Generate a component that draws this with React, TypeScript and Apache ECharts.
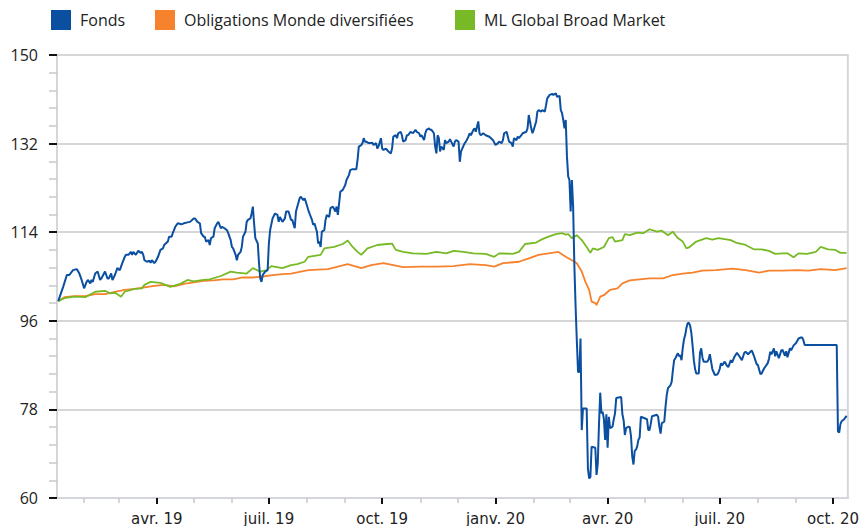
import React, { useEffect, useRef } from "react";
import * as echarts from "echarts";

const seriesNames = ["Fonds", "Obligations Monde diversifiées", "ML Global Broad Market"];
const seriesColors = ["#0b4fa1", "#f7822d", "#77ba26"];

const fonds: [string, number][] = [
  ["2019-01-11", 100.0], ["2019-01-15", 102.9], ["2019-01-18", 105.3], ["2019-01-20", 105.3], ["2019-01-23", 106.3],
  ["2019-01-26", 106.5], ["2019-01-28", 105.7], ["2019-01-30", 104.3], ["2019-02-01", 102.6], ["2019-02-03", 103.9],
  ["2019-02-04", 104.3], ["2019-02-06", 103.6], ["2019-02-07", 104.3], ["2019-02-08", 103.9], ["2019-02-10", 105.6],
  ["2019-02-12", 106.0], ["2019-02-14", 104.3], ["2019-02-15", 104.6], ["2019-02-18", 106.0], ["2019-02-20", 104.6],
  ["2019-02-21", 104.6], ["2019-02-23", 105.6], ["2019-02-24", 104.3], ["2019-02-26", 105.3], ["2019-02-27", 106.0],
  ["2019-02-28", 106.7], ["2019-03-02", 106.3], ["2019-03-03", 107.0], ["2019-03-04", 107.7], ["2019-03-06", 109.0],
  ["2019-03-07", 109.4], ["2019-03-09", 109.4], ["2019-03-11", 110.0], ["2019-03-12", 109.4], ["2019-03-13", 110.0],
  ["2019-03-15", 109.4], ["2019-03-17", 110.2], ["2019-03-19", 109.8], ["2019-03-20", 110.0], ["2019-03-21", 109.4],
  ["2019-03-22", 108.3], ["2019-03-24", 108.0], ["2019-03-26", 108.2], ["2019-03-27", 107.8], ["2019-03-28", 108.3],
  ["2019-03-30", 107.7], ["2019-03-31", 108.0], ["2019-04-02", 109.0], ["2019-04-04", 110.4], ["2019-04-06", 110.7],
  ["2019-04-07", 111.4], ["2019-04-10", 112.1], ["2019-04-11", 113.1], ["2019-04-13", 113.1], ["2019-04-14", 113.8],
  ["2019-04-16", 115.1], ["2019-04-18", 115.8], ["2019-04-21", 115.6], ["2019-04-23", 115.8], ["2019-04-26", 116.0],
  ["2019-04-28", 116.1], ["2019-05-01", 116.8], ["2019-05-02", 116.8], ["2019-05-04", 116.1], ["2019-05-06", 115.8],
  ["2019-05-07", 113.8], ["2019-05-09", 113.1], ["2019-05-10", 113.1], ["2019-05-11", 112.1], ["2019-05-13", 112.4],
  ["2019-05-14", 111.4], ["2019-05-15", 112.8], ["2019-05-17", 113.1], ["2019-05-18", 114.8], ["2019-05-20", 115.8],
  ["2019-05-21", 116.1], ["2019-05-23", 114.8], ["2019-05-24", 115.1], ["2019-05-26", 114.8], ["2019-05-28", 114.4],
  ["2019-05-29", 113.8], ["2019-05-30", 113.1], ["2019-05-31", 112.4], ["2019-06-01", 111.0], ["2019-06-02", 110.7],
  ["2019-06-04", 109.4], ["2019-06-05", 108.3], ["2019-06-06", 109.4], ["2019-06-08", 110.0], ["2019-06-09", 111.0],
  ["2019-06-10", 113.1], ["2019-06-12", 114.1], ["2019-06-13", 116.1], ["2019-06-14", 116.5], ["2019-06-16", 116.8],
  ["2019-06-17", 117.8], ["2019-06-18", 119.2], ["2019-06-19", 115.8], ["2019-06-20", 112.8], ["2019-06-22", 111.7],
  ["2019-06-23", 107.7], ["2019-06-24", 104.6], ["2019-06-25", 103.9], ["2019-06-26", 105.3], ["2019-06-28", 106.0],
  ["2019-06-30", 106.3], ["2019-07-01", 111.7], ["2019-07-02", 114.4], ["2019-07-04", 116.8], ["2019-07-06", 117.8],
  ["2019-07-08", 117.5], ["2019-07-09", 116.1], ["2019-07-10", 117.1], ["2019-07-12", 116.1], ["2019-07-14", 116.8],
  ["2019-07-15", 118.2], ["2019-07-17", 118.2], ["2019-07-19", 116.5], ["2019-07-20", 116.5], ["2019-07-22", 114.8],
  ["2019-07-23", 118.2], ["2019-07-26", 120.9], ["2019-07-27", 121.2], ["2019-07-29", 120.5], ["2019-07-30", 120.9],
  ["2019-07-31", 120.2], ["2019-08-02", 118.5], ["2019-08-03", 117.8], ["2019-08-05", 116.5], ["2019-08-06", 115.5],
  ["2019-08-07", 115.8], ["2019-08-09", 114.1], ["2019-08-10", 111.7], ["2019-08-11", 112.1], ["2019-08-12", 111.0],
  ["2019-08-13", 114.1], ["2019-08-15", 114.4], ["2019-08-16", 116.5], ["2019-08-17", 117.5], ["2019-08-19", 117.1],
  ["2019-08-20", 118.9], ["2019-08-22", 119.2], ["2019-08-24", 118.2], ["2019-08-25", 119.2], ["2019-08-26", 117.5],
  ["2019-08-27", 119.8], ["2019-08-28", 122.2], ["2019-08-30", 122.6], ["2019-09-01", 123.6], ["2019-09-02", 124.6],
  ["2019-09-04", 125.6], ["2019-09-05", 126.6], ["2019-09-07", 126.8], ["2019-09-10", 126.8], ["2019-09-11", 128.7],
  ["2019-09-12", 131.4], ["2019-09-14", 131.7], ["2019-09-15", 132.1], ["2019-09-16", 133.1], ["2019-09-17", 132.4],
  ["2019-09-18", 132.4], ["2019-09-20", 132.1], ["2019-09-22", 132.1], ["2019-09-23", 132.2], ["2019-09-24", 131.7],
  ["2019-09-26", 132.1], ["2019-09-27", 131.0], ["2019-09-28", 131.4], ["2019-09-30", 133.1], ["2019-10-01", 131.0],
  ["2019-10-02", 130.7], ["2019-10-04", 131.0], ["2019-10-05", 130.7], ["2019-10-06", 130.4], ["2019-10-08", 130.0],
  ["2019-10-09", 131.0], ["2019-10-10", 133.4], ["2019-10-12", 133.7], ["2019-10-13", 133.1], ["2019-10-14", 134.1],
  ["2019-10-16", 134.4], ["2019-10-17", 133.7], ["2019-10-18", 132.4], ["2019-10-20", 132.7], ["2019-10-21", 133.7],
  ["2019-10-22", 133.7], ["2019-10-24", 134.4], ["2019-10-26", 134.1], ["2019-10-28", 134.8], ["2019-10-29", 134.4],
  ["2019-10-31", 134.1], ["2019-11-01", 133.4], ["2019-11-02", 133.7], ["2019-11-04", 132.7], ["2019-11-05", 134.1],
  ["2019-11-06", 134.8], ["2019-11-08", 135.1], ["2019-11-09", 134.8], ["2019-11-10", 134.8], ["2019-11-12", 134.1],
  ["2019-11-13", 131.4], ["2019-11-14", 130.0], ["2019-11-15", 133.7], ["2019-11-16", 133.1], ["2019-11-17", 130.4],
  ["2019-11-18", 131.4], ["2019-11-20", 130.7], ["2019-11-21", 132.7], ["2019-11-22", 132.1], ["2019-11-24", 132.4],
  ["2019-11-25", 132.9], ["2019-11-26", 132.4], ["2019-11-28", 131.4], ["2019-11-29", 132.4], ["2019-11-30", 132.7],
  ["2019-12-02", 132.4], ["2019-12-03", 128.3], ["2019-12-04", 130.4], ["2019-12-05", 131.0], ["2019-12-07", 132.1],
  ["2019-12-08", 132.4], ["2019-12-10", 133.4], ["2019-12-11", 134.1], ["2019-12-12", 133.7], ["2019-12-14", 134.8],
  ["2019-12-15", 135.1], ["2019-12-16", 134.4], ["2019-12-18", 136.5], ["2019-12-19", 134.1], ["2019-12-20", 133.7],
  ["2019-12-22", 134.1], ["2019-12-24", 133.7], ["2019-12-27", 133.4], ["2019-12-30", 132.7], ["2020-01-01", 131.7],
  ["2020-01-03", 132.1], ["2020-01-04", 132.4], ["2020-01-06", 132.1], ["2020-01-07", 132.7], ["2020-01-08", 134.1],
  ["2020-01-10", 134.4], ["2020-01-11", 133.4], ["2020-01-12", 132.4], ["2020-01-14", 132.1], ["2020-01-15", 131.4],
  ["2020-01-16", 133.1], ["2020-01-18", 132.7], ["2020-01-19", 133.4], ["2020-01-20", 133.1], ["2020-01-22", 133.7],
  ["2020-01-23", 134.1], ["2020-01-26", 134.4], ["2020-01-27", 135.1], ["2020-01-28", 137.8], ["2020-01-30", 135.1],
  ["2020-01-31", 134.1], ["2020-02-01", 134.8], ["2020-02-03", 136.5], ["2020-02-04", 138.5], ["2020-02-05", 138.8],
  ["2020-02-07", 138.5], ["2020-02-08", 138.8], ["2020-02-10", 138.5], ["2020-02-11", 139.8], ["2020-02-12", 141.2],
  ["2020-02-14", 141.9], ["2020-02-16", 142.1], ["2020-02-17", 141.9], ["2020-02-19", 142.2], ["2020-02-20", 141.5],
  ["2020-02-22", 141.7], ["2020-02-23", 138.8], ["2020-02-24", 138.2], ["2020-02-25", 136.8], ["2020-02-26", 135.1],
  ["2020-02-27", 136.8], ["2020-02-28", 129.3], ["2020-02-29", 125.3], ["2020-03-01", 124.6], ["2020-03-02", 118.2],
  ["2020-03-03", 124.6], ["2020-03-04", 119.2], ["2020-03-05", 107.3], ["2020-03-06", 99.0], ["2020-03-07", 92.0],
  ["2020-03-08", 85.6], ["2020-03-09", 85.6], ["2020-03-10", 92.4], ["2020-03-11", 73.8], ["2020-03-12", 78.2],
  ["2020-03-15", 78.2], ["2020-03-16", 66.0], ["2020-03-17", 64.0], ["2020-03-18", 64.2], ["2020-03-19", 70.4],
  ["2020-03-22", 70.2], ["2020-03-23", 64.7], ["2020-03-24", 67.0], ["2020-03-25", 75.0], ["2020-03-26", 81.4],
  ["2020-03-27", 77.2], ["2020-03-28", 77.5], ["2020-03-29", 76.0], ["2020-03-30", 71.8], ["2020-03-31", 77.0],
  ["2020-04-01", 70.2], ["2020-04-02", 76.5], ["2020-04-03", 74.2], ["2020-04-05", 74.5], ["2020-04-06", 76.0],
  ["2020-04-07", 77.2], ["2020-04-08", 80.3], ["2020-04-12", 80.5], ["2020-04-13", 77.0], ["2020-04-14", 75.8],
  ["2020-04-15", 72.8], ["2020-04-16", 74.2], ["2020-04-18", 74.5], ["2020-04-19", 74.4], ["2020-04-20", 72.5],
  ["2020-04-21", 68.4], ["2020-04-22", 66.8], ["2020-04-23", 69.6], ["2020-04-24", 69.8], ["2020-04-25", 70.5],
  ["2020-04-26", 71.8], ["2020-04-27", 72.3], ["2020-04-28", 76.5], ["2020-05-03", 76.0], ["2020-05-04", 73.8],
  ["2020-05-05", 73.8], ["2020-05-06", 75.0], ["2020-05-07", 76.6], ["2020-05-11", 76.9], ["2020-05-12", 76.5],
  ["2020-05-13", 74.5], ["2020-05-14", 73.1], ["2020-05-15", 75.2], ["2020-05-17", 75.5], ["2020-05-18", 78.5],
  ["2020-05-19", 80.9], ["2020-05-20", 82.3], ["2020-05-22", 82.9], ["2020-05-23", 83.6], ["2020-05-24", 86.0],
  ["2020-05-25", 88.0], ["2020-05-26", 88.4], ["2020-05-28", 89.4], ["2020-05-29", 88.8], ["2020-05-30", 89.0],
  ["2020-05-31", 88.0], ["2020-06-01", 90.5], ["2020-06-02", 92.2], ["2020-06-03", 93.1], ["2020-06-04", 94.6],
  ["2020-06-05", 95.5], ["2020-06-06", 95.6], ["2020-06-07", 95.0], ["2020-06-08", 93.5], ["2020-06-09", 90.9],
  ["2020-06-10", 88.0], ["2020-06-11", 86.2], ["2020-06-12", 85.3], ["2020-06-14", 85.3], ["2020-06-15", 89.5],
  ["2020-06-16", 90.4], ["2020-06-17", 88.5], ["2020-06-18", 87.7], ["2020-06-21", 87.7], ["2020-06-22", 88.2],
  ["2020-06-23", 89.2], ["2020-06-24", 87.7], ["2020-06-25", 86.2], ["2020-06-26", 85.6], ["2020-06-27", 85.0],
  ["2020-06-29", 85.1], ["2020-06-30", 85.5], ["2020-07-01", 86.2], ["2020-07-02", 87.4], ["2020-07-03", 86.9],
  ["2020-07-05", 87.7], ["2020-07-07", 86.8], ["2020-07-08", 86.6], ["2020-07-10", 88.0], ["2020-07-11", 87.5],
  ["2020-07-13", 88.7], ["2020-07-15", 89.5], ["2020-07-17", 88.8], ["2020-07-19", 88.0], ["2020-07-21", 89.5],
  ["2020-07-22", 89.7], ["2020-07-24", 89.2], ["2020-07-27", 90.0], ["2020-07-29", 88.7], ["2020-07-31", 87.2],
  ["2020-08-01", 87.0], ["2020-08-03", 85.2], ["2020-08-04", 85.3], ["2020-08-06", 86.3], ["2020-08-09", 87.4],
  ["2020-08-10", 88.3], ["2020-08-11", 89.7], ["2020-08-12", 89.2], ["2020-08-14", 90.4], ["2020-08-15", 88.8],
  ["2020-08-16", 89.8], ["2020-08-18", 88.4], ["2020-08-20", 90.0], ["2020-08-21", 90.1], ["2020-08-23", 88.9],
  ["2020-08-24", 89.8], ["2020-08-25", 88.6], ["2020-08-27", 90.4], ["2020-08-28", 90.0], ["2020-08-30", 91.0],
  ["2020-09-01", 91.5], ["2020-09-03", 92.4], ["2020-09-05", 92.6], ["2020-09-06", 92.6], ["2020-09-07", 92.0],
  ["2020-09-08", 91.1], ["2020-10-04", 91.1], ["2020-10-05", 73.5], ["2020-10-06", 73.3], ["2020-10-07", 75.0],
  ["2020-10-08", 75.6], ["2020-10-10", 76.0], ["2020-10-12", 76.7],
];

const obligations: [string, number][] = [
  ["2019-01-11", 100.0], ["2019-01-16", 100.8], ["2019-01-24", 101.0], ["2019-02-02", 101.0], ["2019-02-10", 101.4],
  ["2019-02-18", 101.4], ["2019-02-26", 101.9], ["2019-03-06", 102.3], ["2019-03-14", 102.5], ["2019-03-22", 102.8],
  ["2019-03-30", 103.1], ["2019-04-07", 103.3], ["2019-04-15", 103.0], ["2019-04-23", 103.5], ["2019-05-01", 103.8],
  ["2019-05-09", 104.1], ["2019-05-17", 104.2], ["2019-05-25", 104.4], ["2019-06-02", 104.4], ["2019-06-10", 104.8],
  ["2019-06-18", 104.8], ["2019-06-26", 105.0], ["2019-07-04", 105.3], ["2019-07-12", 105.5], ["2019-07-19", 105.6],
  ["2019-07-25", 105.9], ["2019-08-02", 106.3], ["2019-08-18", 106.5], ["2019-09-03", 107.5], ["2019-09-14", 106.7],
  ["2019-09-22", 107.3], ["2019-10-02", 107.7], ["2019-10-10", 107.3], ["2019-10-18", 106.9], ["2019-11-01", 107.0],
  ["2019-11-14", 107.0], ["2019-11-28", 107.1], ["2019-12-11", 107.5], ["2019-12-24", 107.3], ["2019-12-31", 107.0],
  ["2020-01-07", 107.7], ["2020-01-20", 108.0], ["2020-01-28", 108.7], ["2020-02-05", 109.4], ["2020-02-13", 109.7],
  ["2020-02-21", 110.0], ["2020-02-27", 109.0], ["2020-03-03", 108.3], ["2020-03-07", 107.7], ["2020-03-11", 106.0],
  ["2020-03-14", 103.9], ["2020-03-17", 102.3], ["2020-03-19", 99.9], ["2020-03-22", 99.6], ["2020-03-23", 99.2],
  ["2020-03-26", 100.9], ["2020-03-29", 101.2], ["2020-04-03", 102.3], ["2020-04-09", 102.6], ["2020-04-13", 103.6],
  ["2020-04-19", 104.2], ["2020-04-27", 104.4], ["2020-05-05", 104.6], ["2020-05-16", 104.6], ["2020-05-24", 105.3],
  ["2020-06-01", 105.6], ["2020-06-09", 105.8], ["2020-06-17", 106.2], ["2020-06-28", 106.3], ["2020-07-11", 106.6],
  ["2020-07-22", 106.3], ["2020-08-02", 105.8], ["2020-08-10", 106.2], ["2020-08-21", 106.2], ["2020-09-02", 106.3],
  ["2020-09-11", 106.2], ["2020-09-21", 106.5], ["2020-10-03", 106.3], ["2020-10-12", 106.7],
];

const mlGlobal: [string, number][] = [
  ["2019-01-11", 100.0], ["2019-01-16", 100.6], ["2019-01-24", 100.9], ["2019-02-02", 100.8], ["2019-02-10", 101.9],
  ["2019-02-18", 102.1], ["2019-02-22", 101.6], ["2019-02-26", 101.7], ["2019-02-28", 101.4], ["2019-03-03", 100.9],
  ["2019-03-06", 101.9], ["2019-03-14", 102.5], ["2019-03-20", 102.6], ["2019-03-22", 103.3], ["2019-03-27", 103.9],
  ["2019-04-04", 103.7], ["2019-04-12", 102.9], ["2019-04-20", 103.5], ["2019-04-26", 104.3], ["2019-05-01", 104.0],
  ["2019-05-09", 104.3], ["2019-05-14", 104.4], ["2019-05-23", 105.1], ["2019-05-31", 106.0], ["2019-06-05", 105.8],
  ["2019-06-13", 105.6], ["2019-06-18", 106.7], ["2019-06-24", 106.0], ["2019-06-29", 106.3], ["2019-07-03", 107.1],
  ["2019-07-12", 106.7], ["2019-07-19", 107.3], ["2019-07-24", 107.5], ["2019-07-30", 108.0], ["2019-08-02", 109.0],
  ["2019-08-12", 109.4], ["2019-08-15", 110.7], ["2019-08-23", 111.0], ["2019-08-30", 111.6], ["2019-09-03", 112.3],
  ["2019-09-07", 111.0], ["2019-09-11", 110.0], ["2019-09-14", 109.4], ["2019-09-19", 110.7], ["2019-09-27", 111.4],
  ["2019-10-05", 111.6], ["2019-10-09", 111.7], ["2019-10-12", 110.4], ["2019-10-18", 110.0], ["2019-10-26", 109.7],
  ["2019-11-06", 109.6], ["2019-11-14", 110.0], ["2019-11-22", 109.7], ["2019-11-28", 110.2], ["2019-12-06", 110.0],
  ["2019-12-14", 109.7], ["2019-12-24", 109.6], ["2019-12-31", 109.0], ["2020-01-04", 109.7], ["2020-01-15", 109.6],
  ["2020-01-20", 110.0], ["2020-01-25", 111.6], ["2020-02-03", 111.9], ["2020-02-08", 112.6], ["2020-02-13", 113.1],
  ["2020-02-19", 113.6], ["2020-02-24", 113.8], ["2020-02-27", 113.5], ["2020-02-29", 113.6], ["2020-03-03", 112.8],
  ["2020-03-07", 113.4], ["2020-03-11", 112.4], ["2020-03-15", 111.0], ["2020-03-18", 109.8], ["2020-03-20", 110.7],
  ["2020-03-24", 110.4], ["2020-03-29", 111.0], ["2020-04-02", 112.8], ["2020-04-05", 113.0], ["2020-04-07", 112.1],
  ["2020-04-13", 112.4], ["2020-04-15", 113.6], ["2020-04-19", 113.4], ["2020-04-25", 113.9], ["2020-04-30", 113.8],
  ["2020-05-05", 114.6], ["2020-05-11", 114.1], ["2020-05-15", 114.3], ["2020-05-20", 113.4], ["2020-05-24", 114.1],
  ["2020-05-28", 112.8], ["2020-06-01", 112.1], ["2020-06-04", 110.7], ["2020-06-06", 110.9], ["2020-06-12", 112.1],
  ["2020-06-20", 112.8], ["2020-06-25", 112.5], ["2020-06-30", 112.8], ["2020-07-10", 112.4], ["2020-07-14", 111.9],
  ["2020-07-22", 111.4], ["2020-07-29", 110.5], ["2020-08-04", 110.5], ["2020-08-10", 110.2], ["2020-08-15", 109.6],
  ["2020-08-21", 109.7], ["2020-08-25", 109.7], ["2020-08-30", 108.9], ["2020-09-03", 109.7], ["2020-09-10", 109.6],
  ["2020-09-17", 110.0], ["2020-09-21", 111.0], ["2020-09-27", 110.5], ["2020-10-03", 110.4], ["2020-10-07", 109.8],
  ["2020-10-12", 109.8],
];

const xRange = ["2019-01-10", "2020-10-13"];
const monthTickDates = [
  "2019-02-01", "2019-03-01", "2019-04-01", "2019-05-01", "2019-06-01", "2019-07-01", "2019-08-01",
  "2019-09-01", "2019-10-01", "2019-11-01", "2019-12-01", "2020-01-01", "2020-02-01", "2020-03-01",
  "2020-04-01", "2020-05-01", "2020-06-01", "2020-07-01", "2020-08-01", "2020-09-01", "2020-10-01",
];
const quarterTickDates = ["2019-04-01", "2019-07-01", "2019-10-01", "2020-01-01", "2020-04-01", "2020-07-01", "2020-10-01"];
const quarterTickLabels = ["avr. 19", "juil. 19", "oct. 19", "janv. 20", "avr. 20", "juil. 20", "oct. 20"];

const yMin = 60;
const yMax = 150;
const yStep = 18;

const toTime = (s: string) => {
  const [y, m, d] = s.split("-").map(Number);
  return Date.UTC(y, m - 1, d);
};

const toPoints = (rows: [string, number][]) => rows.map(([d, v]) => [toTime(d), v]);

export default function App() {
  const ref = useRef<HTMLDivElement>(null);

  useEffect(() => {
    if (!ref.current) return;
    const chart = echarts.init(ref.current, null, { renderer: "svg" });
    const xMin = toTime(xRange[0]);
    const xMax = toTime(xRange[1]);
    const labelMap: Record<number, string> = {};
    quarterTickDates.forEach((d, i) => {
      labelMap[toTime(d)] = quarterTickLabels[i];
    });
    const uiFont = "'Open Sans', Calibri, sans-serif";
    const legendLefts = [51, 155, 455];

    chart.setOption({
      animation: false,
      backgroundColor: "#ffffff",
      legend: seriesNames.map((name, i) => ({
        data: [name],
        left: legendLefts[i],
        top: 10,
        padding: 0,
        icon: "rect",
        itemWidth: 20,
        itemHeight: 20,
        selectedMode: false,
        textStyle: { fontSize: 16, fontFamily: uiFont, color: "#222222", padding: [0, 0, 0, 4] },
      })),
      grid: {
        left: 57,
        right: 7,
        top: 55,
        bottom: 28,
        show: true,
        borderColor: "#d3d6da",
        borderWidth: 2,
        containLabel: false,
      },
      xAxis: [
        {
          type: "value",
          min: xMin,
          max: xMax,
          axisLine: { show: true, lineStyle: { color: "#d3d6da", width: 2 } },
          axisTick: {
            show: true,
            length: 5,
            customValues: monthTickDates.map(toTime),
            lineStyle: { color: "#c8c8c8", width: 1.5 },
          },
          axisLabel: { show: false },
          splitLine: { show: false },
        },
        {
          type: "value",
          min: xMin,
          max: xMax,
          position: "bottom",
          axisLine: { show: false },
          axisTick: {
            show: true,
            length: 6,
            customValues: quarterTickDates.map(toTime),
            lineStyle: { color: "#111111", width: 2 },
          },
          axisLabel: {
            show: true,
            customValues: quarterTickDates.map(toTime),
            formatter: (v: number) => labelMap[v] ?? "",
            fontFamily: "Verdana, 'DejaVu Sans', sans-serif",
            fontSize: 15,
            color: "#222222",
            margin: 13,
          },
          splitLine: { show: false },
        },
      ],
      yAxis: {
        type: "value",
        min: yMin,
        max: yMax,
        interval: yStep,
        axisLine: { show: true, lineStyle: { color: "#d3d6da", width: 2 } },
        axisTick: { show: true, length: 8, lineStyle: { color: "#111111", width: 2 } },
        minorTick: { show: true, splitNumber: 5, length: 8, lineStyle: { color: "#c8c8c8", width: 1.5 } },
        axisLabel: { fontSize: 16, fontFamily: uiFont, color: "#222222", margin: 19 },
        splitLine: { show: true, lineStyle: { color: "#d6d6d6", width: 2 } },
        minorSplitLine: { show: false },
      },
      series: [
        {
          name: seriesNames[1],
          type: "line",
          xAxisIndex: 0,
          data: toPoints(obligations),
          showSymbol: false,
          lineStyle: { color: seriesColors[1], width: 1.8 },
          itemStyle: { color: seriesColors[1] },
        },
        {
          name: seriesNames[2],
          type: "line",
          xAxisIndex: 0,
          data: toPoints(mlGlobal),
          showSymbol: false,
          lineStyle: { color: seriesColors[2], width: 1.8 },
          itemStyle: { color: seriesColors[2] },
        },
        {
          name: seriesNames[0],
          type: "line",
          xAxisIndex: 0,
          data: toPoints(fonds),
          showSymbol: false,
          lineStyle: { color: seriesColors[0], width: 2 },
          itemStyle: { color: seriesColors[0] },
        },
      ],
    });

    return () => chart.dispose();
  }, []);

  return (
    <div
      ref={ref}
      style={{ position: "fixed", left: 0, top: 0, width: 862, height: 526, background: "#ffffff" }}
    />
  );
}
